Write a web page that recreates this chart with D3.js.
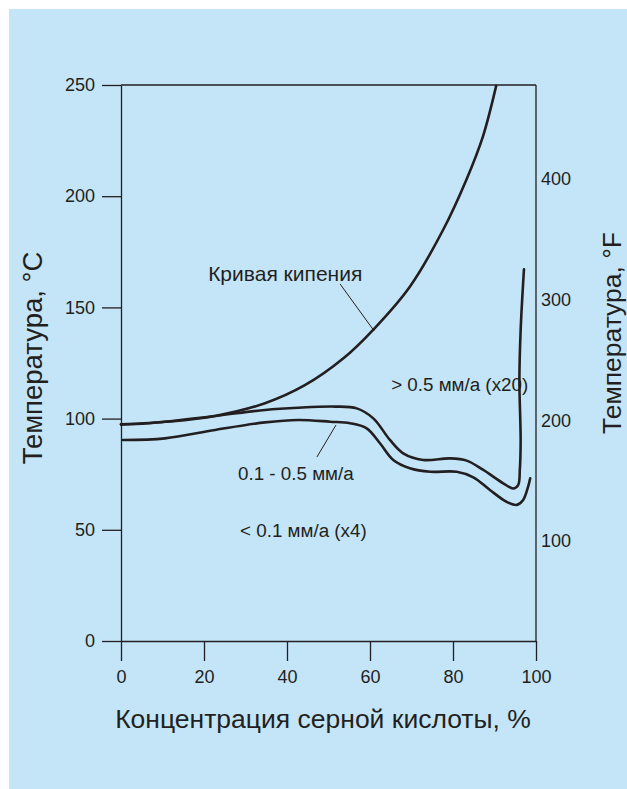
<!DOCTYPE html>
<html>
<head>
<meta charset="utf-8">
<script src="https://cdn.jsdelivr.net/npm/d3@7"></script>
<style>
  html, body { margin: 0; padding: 0; background: #fff; }
  svg { display: block; font-family: "Liberation Sans", Arial, sans-serif; }
  .axis text { fill: #231f20; font-size: 18px; }
  .axis line, .axis path { stroke: #231f20; stroke-width: 1.3; }
</style>
</head>
<body>
<svg id="chart" width="627" height="789"></svg>
<script>
// axis ticks
var xTicks = [0, 20, 40, 60, 80, 100];
var cTicks = [0, 50, 100, 150, 200, 250];
var fTicks = [100, 200, 300, 400];

// boiling curve, % vs °C
var boilX = [0, 11.8, 22.65, 34.7, 44.3, 53.6, 60.7, 69.6, 77.6, 83.2, 87.2, 90.4];
var boilY = [97.4, 98.7, 101.2, 106.9, 115.0, 127.1, 139.8, 159.3, 184.8, 207.3, 226.8, 249.6];

// 0.5 mm/a iso-corrosion line
var upperX = [0, 6.5, 22.7, 34.7, 42.7, 51.6, 56.8, 60.8, 64.8, 68.0, 72.8, 79.3, 83.3, 87.3, 92.1, 94.5, 95.7, 96.1, 96.3, 96.0, 96.3, 97.1];
var upperY = [97.4, 97.9, 101.2, 103.9, 104.9, 105.4, 104.6, 100.1, 90.4, 84.4, 81.4, 82.1, 81.1, 76.9, 70.9, 68.6, 70.1, 76.9, 90.4, 117.4, 139.8, 167.1];

// 0.1 mm/a iso-corrosion line
var lowerX = [0.5, 10.6, 22.7, 34.7, 42.7, 50.4, 55.2, 59.2, 62.4, 65.6, 69.6, 74.5, 80.9, 84.9, 88.9, 92.9, 95.4, 96.9, 98.1, 98.6];
var lowerY = [90.4, 91.1, 94.9, 98.3, 99.4, 98.6, 97.9, 95.6, 88.9, 81.4, 77.7, 76.1, 76.1, 73.6, 67.9, 62.6, 61.2, 63.4, 69.4, 73.2];

// annotations
var labelText = ['Кривая кипения', '0.1 - 0.5 мм/а', '< 0.1 мм/а (x4)', '> 0.5 мм/а (x20)'];
var labelX = [21.0, 28.2, 28.7, 65.1];
var labelY = [161.9, 72.4, 46.8, 112.4];
var leaderX = [[52.8, 61.0], [47.2, 51.8]];
var leaderY = [[160.5, 139.4], [82.7, 97.1]];

var svg = d3.select('#chart');
var ink = '#231f20';

svg.append('rect')
  .attr('x', 9).attr('y', 9)
  .attr('width', 618).attr('height', 780)
  .attr('fill', '#c4e5f8');

var xScale = d3.scaleLinear().domain([0, 100]).range([121, 536]);
var yScale = d3.scaleLinear().domain([0, 250]).range([641, 85]);
var fScale = d3.scaleLinear().domain([100, 400]).range([541, 179]);

// frame: top and right borders
svg.append('line')
  .attr('x1', xScale(0)).attr('x2', xScale(100))
  .attr('y1', yScale(250)).attr('y2', yScale(250))
  .attr('stroke', ink).attr('stroke-width', 1.3);
svg.append('line')
  .attr('x1', xScale(100)).attr('x2', xScale(100))
  .attr('y1', yScale(250)).attr('y2', yScale(0))
  .attr('stroke', ink).attr('stroke-width', 1.3);

svg.append('g')
  .classed('axis', true)
  .attr('transform', `translate(${xScale(0)},0)`)
  .call(d3.axisLeft(yScale).tickValues(cTicks).tickSize(19).tickSizeOuter(0).tickPadding(7));

svg.append('g')
  .classed('axis', true)
  .attr('transform', `translate(0,${yScale(0)})`)
  .call(d3.axisBottom(xScale).tickValues(xTicks).tickSize(20).tickSizeOuter(0).tickPadding(9));

var fAxis = svg.append('g')
  .classed('axis', true)
  .attr('transform', `translate(${xScale(100)},0)`)
  .call(d3.axisRight(fScale).tickValues(fTicks).tickSize(0).tickPadding(5));
fAxis.select('.domain').remove();

// curves
var line = d3.line()
  .x(d => xScale(d[0]))
  .y(d => yScale(d[1]))
  .curve(d3.curveCatmullRom.alpha(0.5));

[[boilX, boilY], [upperX, upperY], [lowerX, lowerY]].forEach(function(s) {
  svg.append('path')
    .datum(s[0].map((v, i) => [v, s[1][i]]))
    .attr('d', line)
    .attr('fill', 'none')
    .attr('stroke', ink)
    .attr('stroke-width', 2.6)
    .attr('stroke-linecap', 'round');
});

// leader lines
leaderX.forEach(function(lx, i) {
  svg.append('line')
    .attr('x1', xScale(lx[0])).attr('y1', yScale(leaderY[i][0]))
    .attr('x2', xScale(lx[1])).attr('y2', yScale(leaderY[i][1]))
    .attr('stroke', ink).attr('stroke-width', 1);
});

svg.selectAll('.note')
  .data(labelText)
  .enter()
  .append('text')
    .classed('note', true)
    .attr('x', (d, i) => xScale(labelX[i]))
    .attr('y', (d, i) => yScale(labelY[i]))
    .attr('fill', ink)
    .attr('font-size', (d, i) => i == 0 ? 21 : 18.8)
    .text(d => d);

// axis titles
svg.append('text')
  .attr('x', 323).attr('y', 728)
  .attr('text-anchor', 'middle')
  .attr('fill', ink).attr('font-size', 26.5)
  .text('Концентрация серной кислоты, %');

svg.append('text')
  .attr('transform', 'translate(32,358) rotate(-90)')
  .attr('text-anchor', 'middle').attr('dy', '0.35em')
  .attr('fill', ink).attr('font-size', 27.5)
  .text('Температура, °C');

svg.append('text')
  .attr('transform', 'translate(612,333) rotate(-90)')
  .attr('text-anchor', 'middle').attr('dy', '0.35em')
  .attr('fill', ink).attr('font-size', 26.5)
  .text('Температура, °F');
</script>
</body>
</html>
